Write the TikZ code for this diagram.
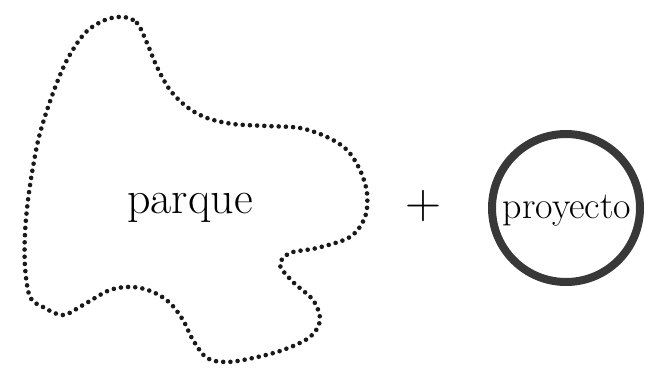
\documentclass[tikz,border=0pt]{standalone}
\begin{document}
\begin{tikzpicture}[x=1pt,y=-1pt,
  blob/.style={line width=4.6pt, dash pattern=on 0pt off 7.2pt, line cap=round, black!90},
  ring/.style={line width=8pt, draw=black!78},
  lbl/.style={inner sep=0pt, anchor=base}]
\useasboundingbox (0,0) rectangle (645,372);
\draw[blob] plot[smooth cycle, tension=0.55] coordinates {
 (123,17) (137,23) (147,43) (157,67) (170,90) (187,107) (207,118) (233,124)
 (267,126) (300,128) (327,137) (347,150) (360,170) (367,193) (365,217) (350,237)
 (317,248) (290,253) (280,265) (293,282) (313,300) (320,320) (310,337) (283,350)
 (253,358) (227,362) (207,358) (193,340) (183,320) (170,303) (153,292) (133,287)
 (110,290) (83,305) (63,315) (43,307) (30,297) (25,267) (25,233) (28,200)
 (33,167) (40,133) (53,93) (67,60) (85,33) (105,20)};
\node[lbl, font=\fontsize{46}{46}\selectfont] (parque) at (190,213) {parque};
\node[lbl, font=\fontsize{50}{50}\selectfont] (plus) at (423,218) {+};
\node[ring, circle, minimum size=148pt, inner sep=0pt] (proy) at (566,208) {};
\node[lbl, font=\fontsize{38}{38}\selectfont] (proyt) at (567,218) {proyecto};
\end{tikzpicture}
\end{document}
